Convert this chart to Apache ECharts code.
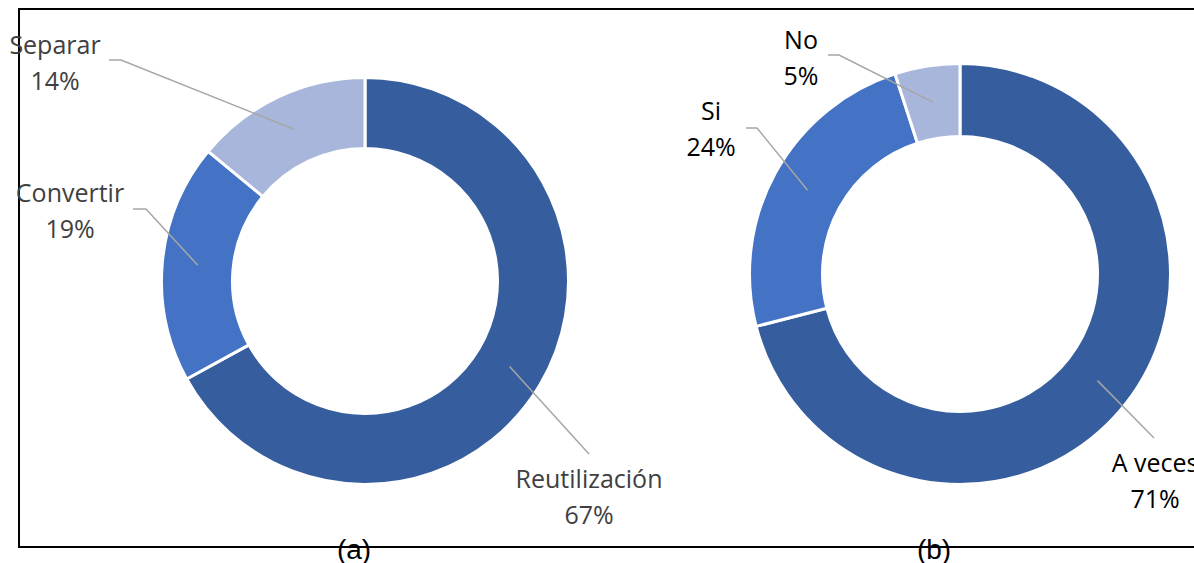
<!DOCTYPE html>
<html>
<head>
<meta charset="utf-8">
<title>Donuts (a) (b)</title>
<script src="https://cdn.jsdelivr.net/npm/echarts@6/dist/echarts.min.js"></script>
<style>
    html, body { margin: 0; padding: 0; background: #fff; }
    #chart { width: 1194px; height: 563px; }
</style>
</head>
<body>
<div id="chart"></div>
<script>
// data (a)
const categoriesA = ['Reutilización', 'Convertir', 'Separar'];
const valuesA = [67, 19, 14];
// data (b)
const categoriesB = ['A veces', 'Si', 'No'];
const valuesB = [71, 24, 5];
const panelLabels = ['(a)', '(b)'];

const sliceColors = ['#365E9E', '#4472C4', '#A8B6DB'];

// geometry of both rings
const pies = [
    { center: [365, 281], radius: [132.5, 203.5], mid: 168, textColor: '#404040' },
    { center: [960, 274], radius: [137.5, 210.5], mid: 174, textColor: '#000000' },
];

// where each label text sits and where its leader line bends / ends
const labelPlaces = [
    [
        { text: [589, 496], bend: [589, 454], end: [589, 454] },
        { text: [70, 210], bend: [146, 209], end: [133, 209] },
        { text: [55, 62], bend: [121, 60], end: [109, 60] },
    ],
    [
        { text: [1155, 480], bend: [1154, 438], end: [1154, 438] },
        { text: [711, 128], bend: [757, 128], end: [746, 128] },
        { text: [801, 57], bend: [839, 55], end: [828, 55] },
    ],
];

function makeData(names, values, transparent) {
    return names.map((name, i) => ({
        name: name,
        value: values[i],
        itemStyle: { color: transparent ? 'rgba(0,0,0,0)' : sliceColors[i] },
    }));
}

// the coloured ring
function makeRing(idx, names, values) {
    const p = pies[idx];
    return {
        type: 'pie',
        z: 2,
        center: p.center,
        radius: p.radius,
        startAngle: 90,
        clockwise: true,
        silent: true,
        animation: false,
        itemStyle: { borderColor: '#ffffff', borderWidth: 3 },
        emphasis: { disabled: true },
        label: { show: false },
        labelLine: { show: false },
        data: makeData(names, values, false),
    };
}

// a see-through copy on top that carries the labels, so leader lines lie over the ring
function makeLabels(idx, names, values) {
    const p = pies[idx];
    return {
        type: 'pie',
        z: 5,
        center: p.center,
        radius: p.radius,
        startAngle: 90,
        clockwise: true,
        silent: true,
        animation: false,
        avoidLabelOverlap: false,
        itemStyle: { borderWidth: 0 },
        emphasis: { disabled: true },
        label: {
            show: true,
            position: 'outside',
            color: p.textColor,
            fontFamily: '"Open Sans", "Noto Sans", sans-serif',
            fontSize: 25,
            lineHeight: 36,
            formatter: (d) => d.name + '\n' + Math.round(d.percent) + '%',
        },
        labelLine: {
            show: true,
            length: 10,
            length2: 10,
            lineStyle: { color: '#A6A6A6', width: 1.5 },
        },
        labelLayout: (params) => {
            const place = labelPlaces[idx][params.dataIndex];
            const pts = params.labelLinePoints;
            let start = place.bend;
            if (pts && pts[0]) {
                // pull the leader line start into the middle of the ring
                const dx = pts[0][0] - p.center[0];
                const dy = pts[0][1] - p.center[1];
                const len = Math.sqrt(dx * dx + dy * dy) || 1;
                start = [p.center[0] + dx / len * p.mid, p.center[1] + dy / len * p.mid];
            }
            return {
                x: place.text[0],
                y: place.text[1],
                align: 'center',
                verticalAlign: 'middle',
                labelLinePoints: [start, place.bend, place.end],
            };
        },
        data: makeData(names, values, true),
    };
}

const chart = echarts.init(document.getElementById('chart'), null, { renderer: 'svg' });

const option = {
    backgroundColor: '#ffffff',
    animation: false,
    graphic: [
        {
            type: 'rect',
            z: 0,
            shape: { x: 19, y: 9, width: 1300, height: 538 },
            style: { fill: 'none', stroke: '#000000', lineWidth: 2 },
        },
        {
            type: 'text',
            z: 10,
            x: 354,
            y: 549,
            style: {
                text: panelLabels[0],
                align: 'center',
                verticalAlign: 'middle',
                font: '28px "Liberation Sans", Arial, sans-serif',
                fill: '#000000',
            },
        },
        {
            type: 'text',
            z: 10,
            x: 934,
            y: 549,
            style: {
                text: panelLabels[1],
                align: 'center',
                verticalAlign: 'middle',
                font: '28px "Liberation Sans", Arial, sans-serif',
                fill: '#000000',
            },
        },
    ],
    series: [
        makeRing(0, categoriesA, valuesA),
        makeRing(1, categoriesB, valuesB),
        makeLabels(0, categoriesA, valuesA),
        makeLabels(1, categoriesB, valuesB),
    ],
};

chart.setOption(option);
</script>
</body>
</html>
